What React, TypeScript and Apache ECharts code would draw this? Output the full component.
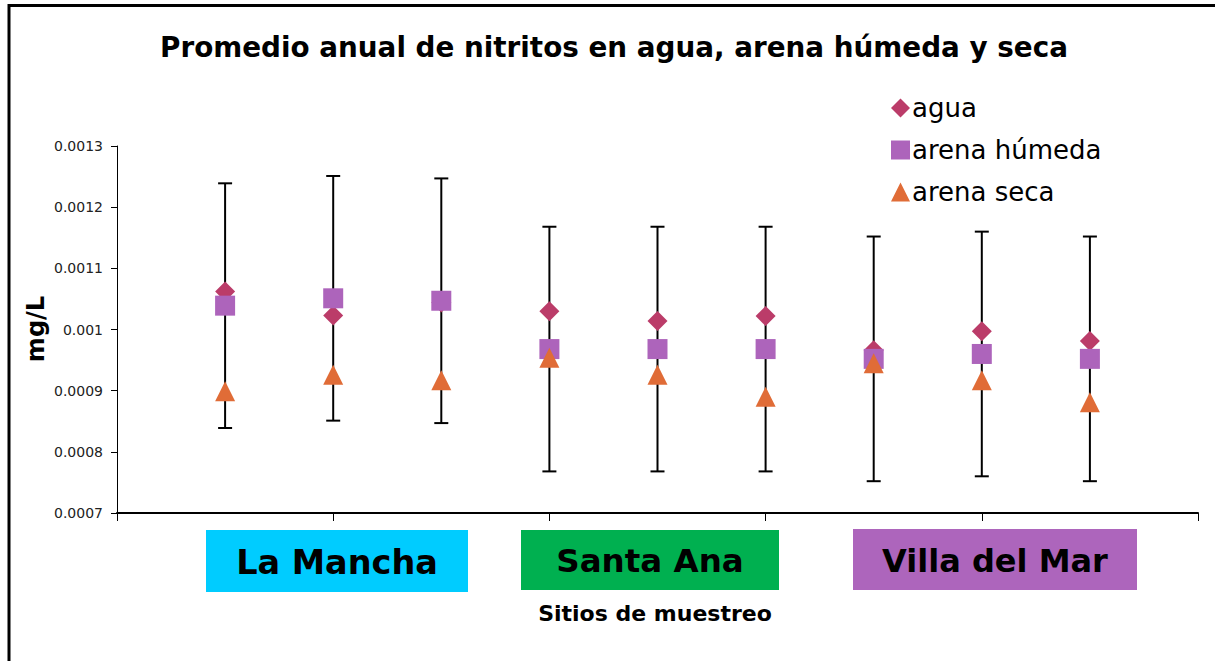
import React, { useEffect, useRef } from "react";
import * as echarts from "echarts";

const titleText = "Promedio anual de nitritos en agua, arena húmeda y seca";
const yAxisTitle = "mg/L";
const xAxisTitle = "Sitios de muestreo";
const seriesNames = ["agua", "arena húmeda", "arena seca"];
const sites = ["La Mancha", "Santa Ana", "Villa del Mar"];
const siteColors = ["#00CCFF", "#00B050", "#AD65BC"];
const xPositions = [0.5, 1, 1.5, 2, 2.5, 3, 3.5, 4, 4.5];
const agua = [0.001062, 0.001023, 0.001044, 0.00103, 0.001014, 0.001022, 0.000966, 0.000997, 0.000981];
const arenaHumeda = [0.001039, 0.001051, 0.001047, 0.000968, 0.000968, 0.000968, 0.000952, 0.00096, 0.000952];
const arenaSeca = [0.000899, 0.000926, 0.000917, 0.000954, 0.000926, 0.00089, 0.000945, 0.000917, 0.000881];
const humedaError = [0.0002, 0.0002, 0.0002, 0.0002, 0.0002, 0.0002, 0.0002, 0.0002, 0.0002];
const yMin = 0.0007;
const yMax = 0.0013;
const yStep = 0.0001;

// layout (pixels) for the site boxes
const siteBoxes = [
  { x: 206, y: 530, w: 262, h: 62, fs: 33.5 },
  { x: 521, y: 530, w: 258, h: 60, fs: 32.5 },
  { x: 853, y: 529, w: 284, h: 61, fs: 32 },
];

const FONT = "'DejaVu Sans', sans-serif";

export default function App() {
  const ref = useRef<HTMLDivElement>(null);
  useEffect(() => {
    document.body.style.margin = "0";
    const chart = echarts.init(ref.current!, null, { renderer: "svg" });
    const pair = (ys: number[]) => xPositions.map((x, i) => [x, ys[i]]);
    const errData = xPositions.map((x, i) => [x, arenaHumeda[i] - humedaError[i], arenaHumeda[i] + humedaError[i]]);
    const option: any = {
      animation: false,
      backgroundColor: "#fff",
      grid: { left: 117, right: 17, top: 146, bottom: 148 },
      xAxis: {
        type: "value",
        min: 0,
        max: 5,
        interval: 1,
        axisLine: { show: true, lineStyle: { color: "#000", width: 2 } },
        axisTick: { show: true, inside: false, length: 8, lineStyle: { color: "#000", width: 1 } },
        axisLabel: { show: false },
        splitLine: { show: false },
      },
      yAxis: {
        type: "value",
        min: yMin,
        max: yMax,
        interval: yStep,
        axisLine: { show: true, lineStyle: { color: "#000", width: 1 } },
        axisTick: { show: true, inside: false, length: 6, lineStyle: { color: "#000", width: 1 } },
        axisLabel: {
          color: "#222",
          fontFamily: FONT,
          fontSize: 14,
          margin: 14,
          formatter: (v: number) => String(parseFloat(v.toFixed(5))),
        },
        splitLine: { show: false },
      },
      legend: {
        orient: "vertical",
        left: 886,
        top: 90,
        itemGap: 16,
        itemWidth: 19,
        itemHeight: 19,
        data: seriesNames,
        textStyle: { fontFamily: FONT, fontSize: 26, color: "#000", padding: [0, 0, 0, -3] },
      },
      series: [
        {
          type: "custom",
          name: "error",
          data: errData,
          encode: { x: 0, y: [1, 2] },
          z: 1,
          renderItem: (params: any, api: any) => {
            const x = api.value(0);
            const lo = api.coord([x, api.value(1)]);
            const hi = api.coord([x, api.value(2)]);
            const h = 7;
            const st = { stroke: "#000", lineWidth: 2 };
            return {
              type: "group",
              children: [
                { type: "line", shape: { x1: hi[0], y1: hi[1], x2: lo[0], y2: lo[1] }, style: st },
                { type: "line", shape: { x1: hi[0] - h, y1: hi[1], x2: hi[0] + h, y2: hi[1] }, style: st },
                { type: "line", shape: { x1: lo[0] - h, y1: lo[1], x2: lo[0] + h, y2: lo[1] }, style: st },
              ],
            };
          },
        },
        {
          type: "scatter",
          name: seriesNames[0],
          data: pair(agua),
          symbol: "diamond",
          symbolSize: [20, 20],
          itemStyle: { color: "#BB3C69", opacity: 1 },
          z: 2,
        },
        {
          type: "scatter",
          name: seriesNames[1],
          data: pair(arenaHumeda),
          symbol: "rect",
          symbolSize: 20,
          itemStyle: { color: "#AD64BB", opacity: 1 },
          z: 3,
        },
        {
          type: "scatter",
          name: seriesNames[2],
          data: pair(arenaSeca),
          symbol: "triangle",
          symbolSize: [20, 20],
          itemStyle: { color: "#E06C37", opacity: 1 },
          z: 4,
        },
      ],
      graphic: [
        {
          type: "polyline",
          shape: { points: [[9, 661], [9, 5.5], [1215, 5.5]] },
          style: { stroke: "#000", lineWidth: 3, fill: null },
        },
        {
          type: "text",
          x: 614,
          y: 47,
          style: {
            text: titleText,
            fontFamily: FONT,
            fontWeight: "bold",
            fontSize: 27.8,
            fill: "#000",
            align: "center",
            verticalAlign: "middle",
          },
        },
        {
          type: "text",
          x: 36,
          y: 329,
          rotation: Math.PI / 2,
          style: {
            text: yAxisTitle,
            fontFamily: FONT,
            fontWeight: "bold",
            fontSize: 24,
            fill: "#000",
            align: "center",
            verticalAlign: "middle",
          },
        },
        {
          type: "text",
          x: 655,
          y: 613,
          style: {
            text: xAxisTitle,
            fontFamily: FONT,
            fontWeight: "bold",
            fontSize: 22,
            fill: "#000",
            align: "center",
            verticalAlign: "middle",
          },
        },
        ...sites.flatMap((s, i) => [
          {
            type: "rect",
            shape: { x: siteBoxes[i].x, y: siteBoxes[i].y, width: siteBoxes[i].w, height: siteBoxes[i].h },
            style: { fill: siteColors[i] },
          },
          {
            type: "text",
            x: siteBoxes[i].x + siteBoxes[i].w / 2,
            y: siteBoxes[i].y + siteBoxes[i].h / 2 + 1,
            style: {
              text: s,
              fontFamily: FONT,
              fontWeight: "bold",
              fontSize: siteBoxes[i].fs,
              fill: "#000",
              align: "center",
              verticalAlign: "middle",
            },
          },
        ]),
      ],
    };
    chart.setOption(option);
    return () => chart.dispose();
  }, []);
  return <div ref={ref} style={{ width: 1215, height: 661 }} />;
}
